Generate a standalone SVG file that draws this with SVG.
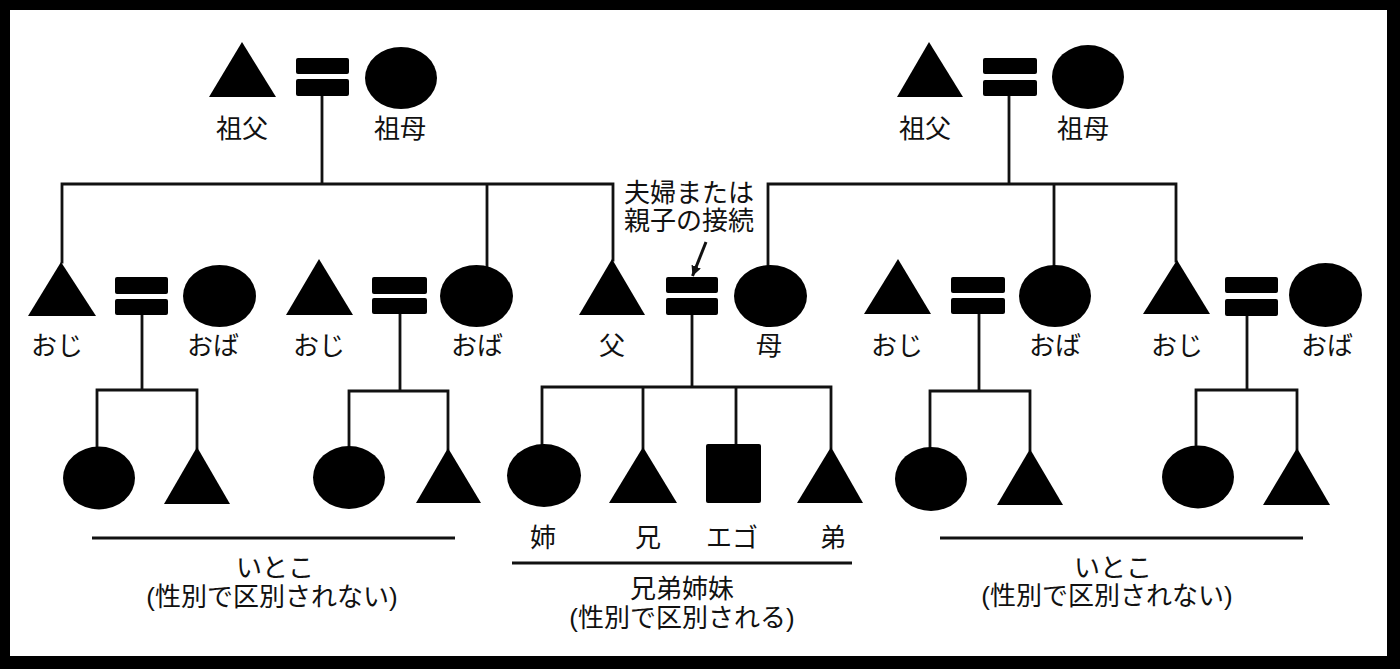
<svg xmlns="http://www.w3.org/2000/svg" width="1400" height="669" viewBox="0 0 1400 669">
<style>
.s{fill:#000}
.c{stroke:#111;stroke-width:2.8;fill:none;stroke-linecap:square}
.sep{stroke:#111;stroke-width:3;fill:none}
.t{font-family:"Noto Sans CJK JP","Noto Sans",sans-serif;font-size:26px;fill:#111;text-anchor:middle}
.cap{font-family:"Liberation Sans","Noto Sans CJK JP",sans-serif;font-size:26px;fill:#111;text-anchor:middle}
</style>
<defs>
<marker id="ah" markerUnits="userSpaceOnUse" markerWidth="12" markerHeight="12" refX="10" refY="5" orient="auto">
<path d="M0,0 L10,5 L0,10 Z" fill="#111"/>
</marker>
</defs>
<rect x="0" y="0" width="1400" height="669" fill="#000"/>
<rect x="10" y="10" width="1377" height="646" fill="#fff"/>

<g id="connectors">
<path class="c" d="M322,96 V184 M62,184 H613 M62,184 V262 M487,184 V266 M613,184 V260"/>
<path class="c" d="M1009,96 V184 M768,184 H1176 M768,184 V266 M1054,184 V266 M1176,184 V261"/>
<path class="c" d="M142,315 V390 M97,390 H197 M97,390 V447 M197,390 V448"/>
<path class="c" d="M400,314 V391 M349,391 H448 M349,391 V447 M448,391 V449"/>
<path class="c" d="M692,315 V387 M542,387 H831 M542,387 V445 M643,387 V448 M736,387 V445 M831,387 V448"/>
<path class="c" d="M979,314 V391 M930,391 H1030 M930,391 V448 M1030,391 V450"/>
<path class="c" d="M1247,316 V390 M1196,390 H1297 M1196,390 V447 M1297,390 V449"/>
<path d="M706,242 L692.5,276" stroke="#111" stroke-width="3" fill="none" marker-end="url(#ah)"/>
</g>

<g id="gp-left-grandfather"><polygon class="s" points="242,42 209,97 276,97"/><text class="t" x="242" y="138">祖父</text></g>
<g id="gp-left-marriage"><rect class="s" x="296" y="58" width="53" height="16" rx="2"/><rect class="s" x="296" y="79" width="53" height="17" rx="2"/></g>
<g id="gp-left-grandmother"><ellipse class="s" cx="401" cy="78" rx="36" ry="31"/><text class="t" x="400" y="138">祖母</text></g>

<g id="gp-right-grandfather"><polygon class="s" points="929,42 897,97 963,97"/><text class="t" x="925" y="138">祖父</text></g>
<g id="gp-right-marriage"><rect class="s" x="983" y="58" width="54" height="16" rx="2"/><rect class="s" x="983" y="80" width="54" height="16" rx="2"/></g>
<g id="gp-right-grandmother"><ellipse class="s" cx="1088" cy="77" rx="36" ry="32"/><text class="t" x="1083" y="138">祖母</text></g>

<g id="l1-uncle"><polygon class="s" points="61,262 28,316 96,316"/><text class="t" x="57" y="355">おじ</text></g>
<g id="l1-marriage"><rect class="s" x="115" y="277" width="53" height="17" rx="2"/><rect class="s" x="115" y="299" width="53" height="16" rx="2"/></g>
<g id="l1-aunt"><ellipse class="s" cx="219.5" cy="296" rx="36.5" ry="31"/><text class="t" x="213" y="355">おば</text></g>

<g id="l2-uncle"><polygon class="s" points="319,259 286,315 353,315"/><text class="t" x="319" y="355">おじ</text></g>
<g id="l2-marriage"><rect class="s" x="372" y="277" width="55" height="17" rx="2"/><rect class="s" x="372" y="298" width="55" height="16" rx="2"/></g>
<g id="l2-aunt"><ellipse class="s" cx="476.5" cy="296" rx="36.5" ry="31"/><text class="t" x="477" y="355">おば</text></g>

<g id="father"><polygon class="s" points="612,259 579,315 645,315"/><text class="t" x="612" y="355">父</text></g>
<g id="parents-marriage"><rect class="s" x="666" y="277" width="52" height="16" rx="2"/><rect class="s" x="666" y="298" width="52" height="17" rx="2"/></g>
<g id="mother"><ellipse class="s" cx="770.5" cy="296" rx="36.5" ry="31"/><text class="t" x="769" y="355">母</text></g>
<g id="annotation"><text class="cap" x="689" y="202">夫婦または</text><text class="cap" x="689" y="230">親子の接続</text></g>

<g id="r1-uncle"><polygon class="s" points="898,259 864,314 931,314"/><text class="t" x="897" y="355">おじ</text></g>
<g id="r1-marriage"><rect class="s" x="951" y="277" width="54" height="16" rx="2"/><rect class="s" x="951" y="298" width="54" height="16" rx="2"/></g>
<g id="r1-aunt"><ellipse class="s" cx="1055" cy="296" rx="36" ry="31"/><text class="t" x="1055" y="355">おば</text></g>

<g id="r2-uncle"><polygon class="s" points="1177,260 1143,314 1210,314"/><text class="t" x="1177" y="355">おじ</text></g>
<g id="r2-marriage"><rect class="s" x="1225" y="277" width="53" height="16" rx="2"/><rect class="s" x="1225" y="299" width="53" height="17" rx="2"/></g>
<g id="r2-aunt"><ellipse class="s" cx="1325.5" cy="295" rx="36.5" ry="32"/><text class="t" x="1327" y="355">おば</text></g>

<g id="l1-cousin-f"><ellipse class="s" cx="99" cy="478" rx="36" ry="31.5"/></g>
<g id="l1-cousin-m"><polygon class="s" points="197,447 164,504 230,504"/></g>
<g id="l2-cousin-f"><ellipse class="s" cx="349" cy="477.5" rx="36" ry="31.5"/></g>
<g id="l2-cousin-m"><polygon class="s" points="448,448 416,503 481,503"/></g>

<g id="sister"><ellipse class="s" cx="544" cy="475.5" rx="37" ry="31.5"/><text class="t" x="543" y="547">姉</text></g>
<g id="elder-brother"><polygon class="s" points="643,447 609,503 677,503"/><text class="t" x="648" y="547">兄</text></g>
<g id="ego"><rect class="s" x="706" y="444" width="55" height="59" rx="2"/><text class="t" x="732" y="547">エゴ</text></g>
<g id="younger-brother"><polygon class="s" points="831,447 797,503 863,503"/><text class="t" x="833" y="547">弟</text></g>

<g id="r1-cousin-f"><ellipse class="s" cx="931" cy="479" rx="36" ry="32"/></g>
<g id="r1-cousin-m"><polygon class="s" points="1030,449 997,505 1063,505"/></g>
<g id="r2-cousin-f"><ellipse class="s" cx="1198" cy="477" rx="36" ry="31.5"/></g>
<g id="r2-cousin-m"><polygon class="s" points="1297,448 1263,505 1330,505"/></g>

<g id="cousins-left-caption"><path class="sep" d="M92,538 H455"/><text class="cap" x="275" y="577">いとこ</text><text class="cap" x="272" y="606">(性別で区別されない)</text></g>
<g id="siblings-caption"><path class="sep" d="M512,563 H852"/><text class="cap" x="682" y="598">兄弟姉妹</text><text class="cap" x="682" y="627">(性別で区別される)</text></g>
<g id="cousins-right-caption"><path class="sep" d="M940,538 H1303"/><text class="cap" x="1113" y="577">いとこ</text><text class="cap" x="1107" y="605">(性別で区別されない)</text></g>
</svg>
